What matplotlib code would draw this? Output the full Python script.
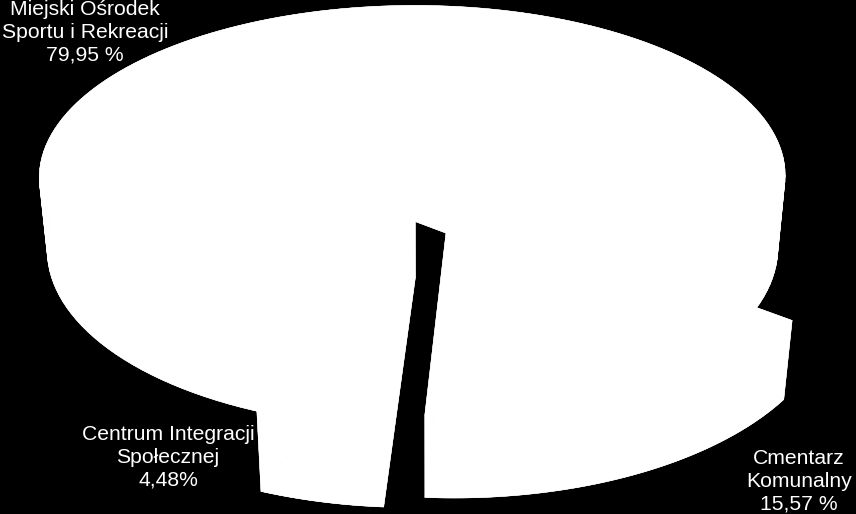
import numpy as np
import matplotlib.pyplot as plt
from matplotlib.collections import PolyCollection

# -----------------------------
# Data
# -----------------------------
names = ["Cmentarz\nKomunalny", "Centrum Integracji\nSpołecznej", "Miejski Ośrodek\nSportu i Rekreacji"]
shares = [15.57, 4.48, 79.95]
pct_text = ["15,57 %", "4,48%", "79,95 %"]
explode = [0.139, 0.165, 0.151]

# -----------------------------
# 3D view of the pie (perspective camera)
# -----------------------------
W, H = 856, 514
ELEV = 29.68       # camera elevation, degrees
DIST = 5.419       # camera distance, in pie radii
THICK = 0.222      # pie thickness, in pie radii
FOCAL = 2001.0
CX, CY = 428.2, 246.6
START = 93.7       # angle where the first slice ends


def proj(u, w, z):
    s, c = np.sin(np.radians(ELEV)), np.cos(np.radians(ELEV))
    depth = DIST - w * c - z * s
    return CX + FOCAL * u / depth, CY + FOCAL * (w * s - z * c) / depth


spans = np.array(shares) / sum(shares) * 360
ranges = [(START - spans[0], START),
          (START, START + spans[1]),
          (START + spans[1], START + 360 - spans[0])]

fig = plt.figure(figsize=(W / 100, H / 100), dpi=100, facecolor="black")
ax = fig.add_axes([0, 0, 1, 1])
ax.set_facecolor("black")
ax.set_xlim(0, W)
ax.set_ylim(H, 0)
ax.axis("off")

# every face is white, so the solid is just the union of top, bottom and side quads
polys = []
for (a, b), e in zip(ranges, explode):
    m = np.radians((a + b) / 2)
    cu, cw = e * np.cos(m), e * np.sin(m)
    th = np.radians(np.linspace(a, b, 150))
    u = np.concatenate([[cu], cu + np.cos(th)])
    w = np.concatenate([[cw], cw + np.sin(th)])
    top = np.column_stack(proj(u, w, THICK))
    bot = np.column_stack(proj(u, w, 0))
    polys += [top, bot]
    for i in range(len(top)):
        j = (i + 1) % len(top)
        polys.append(np.array([top[i], top[j], bot[j], bot[i]]))
ax.add_collection(PolyCollection(polys, facecolors="white", edgecolors="white", linewidths=0.3))

# -----------------------------
# Labels
# -----------------------------
font = ["Liberation Sans", "DejaVu Sans"]
style = dict(color="white", ha="center", va="top", fontsize=15.2, family=font, linespacing=1.24)
ax.text(85, 0, names[2] + "\n" + pct_text[2], **style)
ax.text(168, 425, names[1] + "\n" + pct_text[1], **style)
ax.text(799, 449, names[0] + "\n" + pct_text[0], **style)

fig.savefig("out.png", dpi=100, facecolor="black")
